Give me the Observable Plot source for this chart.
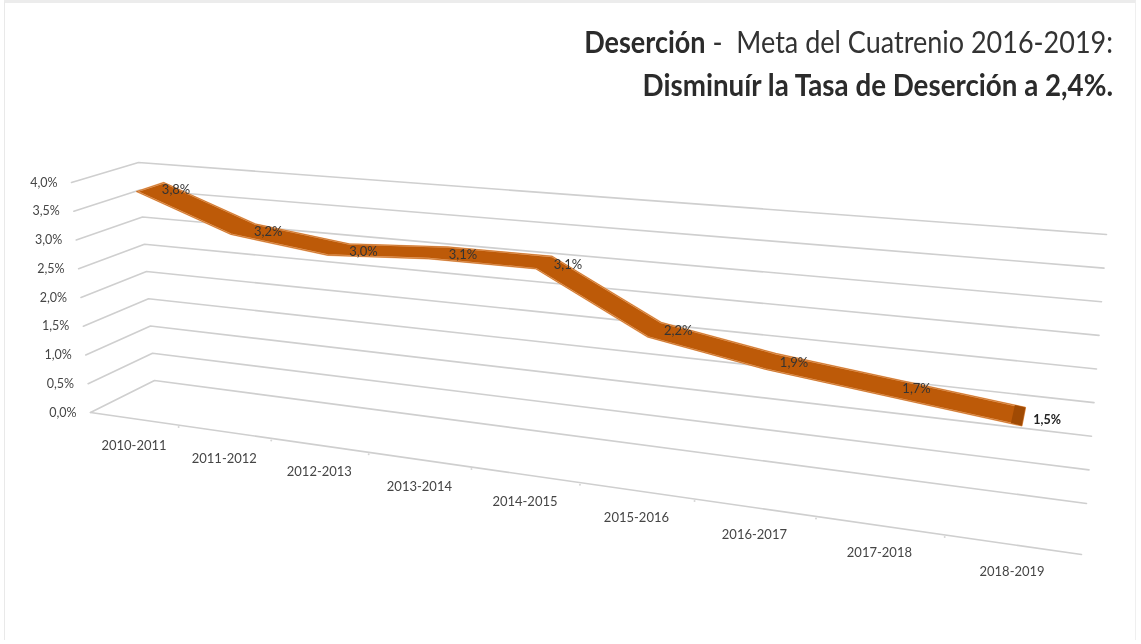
<!DOCTYPE html>
<html lang="es">
<head>
<meta charset="utf-8">
<script src="https://cdn.jsdelivr.net/npm/d3@7"></script>
<script src="https://cdn.jsdelivr.net/npm/@observablehq/plot@0.6"></script>
<style>
  html, body { margin: 0; padding: 0; background: #fff; }
  body { width: 1141px; height: 644px; overflow: hidden; position: relative; font-family: Lato, sans-serif; }
  #frame { position: absolute; left: 4px; top: 0; width: 1132px; height: 640px; border-left: 1px solid #e9e9e9; border-right: 1px solid #efefef; border-top: 3px solid #ececec; box-sizing: border-box; pointer-events: none; }
  #title { height: 120px; box-sizing: border-box; padding: 20px 28px 0 0; text-align: right; color: #333; font-size: 30px; line-height: 43px; filter: blur(.4px); }
  #title .l { display: block; transform-origin: right center; white-space: pre; }
  #title .a { transform: scaleX(.9); }
  #title .c { transform: scaleX(.925); }
  #title b { font-weight: 700; color: #2b2b2b; }
  #chart svg { display: block; filter: blur(.45px); }
</style>
</head>
<body>
<div id="frame"></div>
<div id="title">
  <span class="l a"><b>Deserción</b> -  Meta del Cuatrenio 2016-2019:</span>
  <span class="l c"><b>Disminuír la Tasa de Deserción a 2,4%.</b></span>
</div>
<div id="chart"></div>
<script>
const periods = ["2010-2011","2011-2012","2012-2013","2013-2014","2014-2015","2015-2016","2016-2017","2017-2018","2018-2019"];
const rates = [3.8, 3.2, 3.0, 3.1, 3.1, 2.2, 1.9, 1.7, 1.5];
const rateTicks = [0, 0.5, 1, 1.5, 2, 2.5, 3, 3.5, 4];
const fmt = v => v.toFixed(1).replace(".", ",") + "%";

// Excel-style 3D box: category position k (0..9), value v (0..4), depth z (0 front .. 1 back).
// The Plot projection receives x = k + 100·(depth in hundredths), y = value.
const at = (k, z) => k + 100 * Math.round(z * 100);
const corners = {
  fb: [[90, 412], [1081, 554]], ft: [[71, 182], [1103, 268]],
  bb: [[154, 380], [1086, 503]], bt: [[138, 162], [1106, 234]]
};
const lerp = (a, b, t) => a + (b - a) * t;
const persp = 1.281;
const boxProjection = d3.geoTransform({
  point(x, y) {
    const lane = Math.floor(x / 100), z = lane / 100, u = (x - lane * 100) / 9;
    const s = u / (u + persp * (1 - u)), t = y / 4;
    const q = i => {
      const bot = j => lerp(corners.fb[j][i], corners.bb[j][i], z);
      const top = j => lerp(corners.ft[j][i], corners.bt[j][i], z);
      return lerp(lerp(bot(0), top(0), t), lerp(bot(1), top(1), t), s);
    };
    this.stream.point(q(0), q(1) - 120);
  }
});

const front = 0.30, back = 0.72, labelDepth = 0.69;
const centres = periods.map((p, i) => ({p, k: i + 0.5, v: rates[i]}));
const ribbon = [
  ...centres.map(d => ({x: at(d.k, front), y: d.v})),
  ...centres.slice().reverse().map(d => ({x: at(d.k, back), y: d.v})),
  {x: at(centres[0].k, front), y: centres[0].v}
];
const endCap = [
  {x: at(8.42, front), y: 1.52}, {x: at(8.5, front), y: 1.5}, {x: at(8.5, back), y: 1.5}, {x: at(8.42, back), y: 1.52}
];
const gridRows = rateTicks.flatMap(v => [
  {v, x: at(0, 0), y: v}, {v, x: at(0, 1), y: v}, {v, x: at(9, 1), y: v}
]);
const floorEdge = [{x: at(9, 0), y: 0}, {x: at(0, 0), y: 0}];
const floorTicks = d3.range(1, 9).map(k => ({k}));

const plot = Plot.plot({
  width: 1141, height: 524,
  margin: 0,
  projection: boxProjection,
  style: {background: "transparent", overflow: "visible"},
  marks: [
    Plot.line(gridRows, {x: "x", y: "y", z: "v", stroke: "#cfcfcf", strokeWidth: 1.6, curve: "linear"}),
    Plot.line(floorEdge, {x: "x", y: "y", stroke: "#cfcfcf", strokeWidth: 1.6, curve: "linear"}),
    Plot.dot(floorTicks, {x: d => at(d.k, 0), y: () => 0, r: 1, dy: 2, fill: "#d6d6d6", stroke: "none"}),
    Plot.line(ribbon, {x: "x", y: "y", fill: "#bd5a08", stroke: "#f3b27a", strokeWidth: 1.6, strokeLinejoin: "miter", curve: "linear"}),
    Plot.line(ribbon, {x: "x", y: "y", stroke: "#b25206", strokeWidth: 0.6, curve: "linear"}),
    Plot.line(endCap, {x: "x", y: "y", fill: "#a04a03", curve: "linear", stroke: "none"}),
    Plot.text(rateTicks, {x: () => at(0, 0), y: d => d, text: fmt, textAnchor: "end", dx: -14, dy: 0, fontFamily: "Lato", fontSize: 12.5, fill: "#454545"}),
    Plot.text(centres, {x: d => at(d.k, 0), y: () => 0, text: "p", dy: 27, fontFamily: "Lato", fontSize: 13, fill: "#454545"}),
    Plot.text(centres.slice(0, 8), {x: d => at(d.k + 0.15, labelDepth), y: "v", text: d => fmt(d.v), dx: 1, dy: 6, fontFamily: "Lato", fontSize: 13, fill: "#333"}),
    Plot.text(centres.slice(8), {x: d => at(d.k, labelDepth), y: "v", text: d => fmt(d.v), dx: 22, dy: 11, fontFamily: "Lato", fontSize: 12.5, fontWeight: 700, fill: "#222"})
  ]
});
document.getElementById("chart").append(plot);
</script>
</body>
</html>
